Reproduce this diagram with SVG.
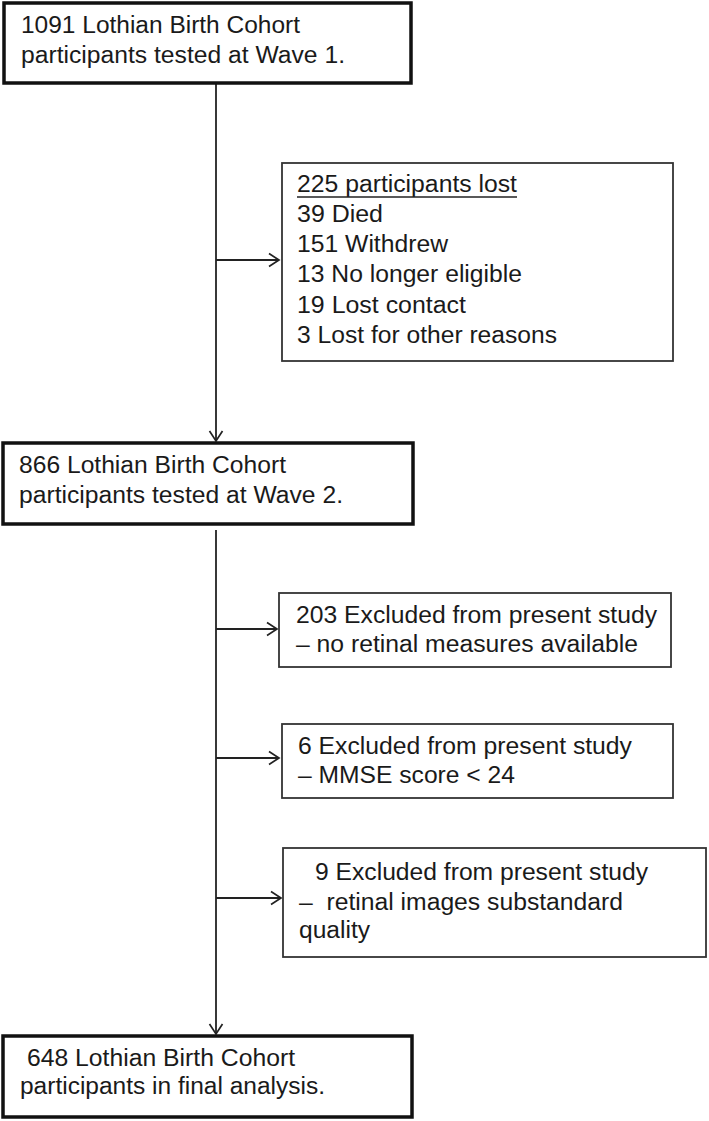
<svg xmlns="http://www.w3.org/2000/svg" width="709" height="1121" viewBox="0 0 709 1121">
<defs>
<marker id="arr" markerWidth="14" markerHeight="16" refX="11" refY="8" orient="auto" markerUnits="userSpaceOnUse">
<path d="M1,1.5 L11,8 L1,14.5" fill="none" stroke="#222" stroke-width="1.7"/>
</marker>
<style>
.main{fill:#fff;stroke:#111;stroke-width:3.5}
.side{fill:#fff;stroke:#333;stroke-width:1.8}
text{font-family:"Liberation Sans",Arial,sans-serif;font-size:23px;fill:#1a1a1a}
.conn{stroke:#222;stroke-width:1.8;fill:none}
</style>
</defs>
<rect width="709" height="1121" fill="#fff"/>
<g id="connectors">
<line class="conn" x1="216" y1="84" x2="216" y2="441" marker-end="url(#arr)"/>
<line class="conn" x1="216" y1="260" x2="279" y2="260" marker-end="url(#arr)"/>
<line class="conn" x1="216" y1="530" x2="216" y2="1034" marker-end="url(#arr)"/>
<line class="conn" x1="216" y1="629" x2="277" y2="629" marker-end="url(#arr)"/>
<line class="conn" x1="216" y1="758" x2="279" y2="758" marker-end="url(#arr)"/>
<line class="conn" x1="216" y1="898" x2="281" y2="898" marker-end="url(#arr)"/>
</g>
<g id="node-wave1">
<rect class="main" x="4" y="3" width="407" height="80"/>
<text x="21" y="33" textLength="279" lengthAdjust="spacingAndGlyphs">1091 Lothian Birth Cohort</text>
<text x="21" y="63" textLength="324" lengthAdjust="spacingAndGlyphs">participants tested at Wave 1.</text>
</g>
<g id="node-lost">
<rect class="side" x="282" y="163" width="391" height="198"/>
<text x="297" y="192" textLength="220" lengthAdjust="spacingAndGlyphs">225 participants lost</text>
<line x1="297" y1="197" x2="517" y2="197" stroke="#222" stroke-width="1.4"/>
<text x="297" y="222" textLength="86" lengthAdjust="spacingAndGlyphs">39 Died</text>
<text x="297" y="252" textLength="151" lengthAdjust="spacingAndGlyphs">151 Withdrew</text>
<text x="297" y="282" textLength="225" lengthAdjust="spacingAndGlyphs">13 No longer eligible</text>
<text x="297" y="313" textLength="169" lengthAdjust="spacingAndGlyphs">19 Lost contact</text>
<text x="297" y="343" textLength="260" lengthAdjust="spacingAndGlyphs">3 Lost for other reasons</text>
</g>
<g id="node-wave2">
<rect class="main" x="3" y="443" width="410" height="81"/>
<text x="19" y="473" textLength="267" lengthAdjust="spacingAndGlyphs">866 Lothian Birth Cohort</text>
<text x="19" y="503" textLength="324" lengthAdjust="spacingAndGlyphs">participants tested at Wave 2.</text>
</g>
<g id="node-excl203">
<rect class="side" x="279" y="593" width="392" height="74"/>
<text x="296" y="623" textLength="361" lengthAdjust="spacingAndGlyphs">203 Excluded from present study</text>
<text x="296" y="652" textLength="342" lengthAdjust="spacingAndGlyphs">– no retinal measures available</text>
</g>
<g id="node-excl6">
<rect class="side" x="282" y="724" width="391" height="74"/>
<text x="298" y="754" textLength="334" lengthAdjust="spacingAndGlyphs">6 Excluded from present study</text>
<text x="298" y="783" textLength="217" lengthAdjust="spacingAndGlyphs">– MMSE score &lt; 24</text>
</g>
<g id="node-excl9">
<rect class="side" x="283" y="848" width="423" height="109"/>
<text x="315" y="880" textLength="333" lengthAdjust="spacingAndGlyphs">9 Excluded from present study</text>
<text x="299" y="910" textLength="324" lengthAdjust="spacingAndGlyphs">–&#160; retinal images substandard</text>
<text x="299" y="938" textLength="71" lengthAdjust="spacingAndGlyphs">quality</text>
</g>
<g id="node-final">
<rect class="main" x="3" y="1036" width="409" height="81"/>
<text x="27" y="1066" textLength="268" lengthAdjust="spacingAndGlyphs">648 Lothian Birth Cohort</text>
<text x="20" y="1094" textLength="305" lengthAdjust="spacingAndGlyphs">participants in final analysis.</text>
</g>
</svg>
